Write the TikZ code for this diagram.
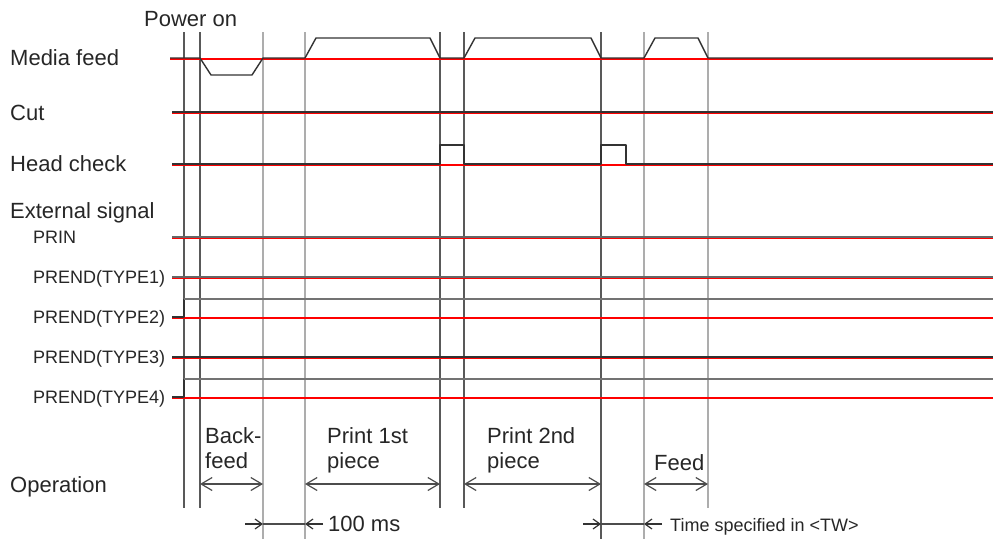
\documentclass[tikz,border=0pt]{standalone}
\usepackage{fontspec}
\setmainfont{Liberation Sans}
\usetikzlibrary{arrows.meta}

\tikzset{
  sig/.style={line width=1.4pt, black!80, line join=round},
  hisig/.style={line width=1.5pt, black!55},
  ref/.style={line width=1.6pt, red},
  edge/.style={line width=1.3pt, black!65},
  faint/.style={line width=2.6pt, black!32},
  lbl/.style={anchor=base west, inner sep=0pt, font=\fontsize{22}{26}\selectfont, text=black!85},
  sublbl/.style={anchor=base west, inner sep=0pt, font=\fontsize{18}{22}\selectfont, text=black!85},
  span/.style={{Straight Barb[length=11pt,width=13pt]}-{Straight Barb[length=11pt,width=13pt]}, line width=1.2pt, black!70},
  pointer/.style={-{Straight Barb[length=7pt,width=10pt]}, line width=1.2pt, black!80},
  gap/.style={line width=1.2pt, black!70}
}

\begin{document}
\begin{tikzpicture}[x=1pt,y=-1pt]
  \useasboundingbox (0,0) rectangle (993,539);
  \foreach \n/\x in {t0/184,t1/200,t2/263,t3/305,t4/440,t5/464,t6/601,t7/644,t8/708}
    \coordinate (\n) at (\x,32);
  \coordinate (low) at (0,508); \coordinate (bottom) at (0,539);
  \coordinate (opy) at (0,484); \coordinate (msy) at (0,524);

  \foreach \n in {t2,t3,t7} \draw[faint] (\n) -- (\n |- bottom);
  \draw[faint] (t8) -- (t8 |- low);
  \foreach \n in {t0,t1,t4,t5} \draw[edge] (\n) -- (\n |- low);
  \draw[edge] (t6) -- (t6 |- bottom);

  \draw[ref] (170,59.2) -- (993,59.2);
  \foreach \y in {112,164,237,277,317,357,397}
    \draw[ref] (172,\y+1.2) -- (993,\y+1.2);

  \draw[sig] (170,58) -- (200,58) -- (211,75) -- (252,75) -- (263,58) -- (305,58)
    -- (316,38) -- (430,38) -- (440,58) -- (464,58) -- (475,38) -- (591,38)
    -- (601,58) -- (644,58) -- (655,38) -- (698,38) -- (708,58) -- (993,58);
  \draw[sig] (172,112) -- (993,112);
  \draw[sig] (172,164) -- (440,164) -- (440,145) -- (464,145) -- (464,164)
    -- (601,164) -- (601,145) -- (626,145) -- (626,164) -- (993,164);
  \draw[sig, black!60] (172,237) -- (993,237);
  \draw[sig, black!60] (172,277) -- (993,277);
  \draw[sig] (172,317) -- (184,317) -- (184,299);
  \draw[hisig] (184,299) -- (993,299);
  \draw[sig] (172,357) -- (993,357);
  \draw[sig] (172,397) -- (184,397) -- (184,379);
  \draw[hisig] (184,379) -- (993,379);

  \node[lbl] (power) at (144,26) {Power on};
  \node[lbl] (media) at (10,65.5) {Media feed};
  \node[lbl] (cut) at (10,120) {Cut};
  \node[lbl] (head) at (10,171) {Head check};
  \node[lbl] (ext) at (10,218) {External signal};
  \node[sublbl] (prin) at (33,243) {PRIN};
  \node[sublbl] (type1) at (33,283) {PREND(TYPE1)};
  \node[sublbl] (type2) at (33,323) {PREND(TYPE2)};
  \node[sublbl] (type3) at (33,363) {PREND(TYPE3)};
  \node[sublbl] (type4) at (33,403) {PREND(TYPE4)};
  \node[lbl] (oper) at (10,492) {Operation};

  \node[lbl] (back1) at (205,443) {Back-};
  \node[lbl] (back2) at (205,468) {feed};
  \node[lbl] (first1) at (327,443) {Print 1st};
  \node[lbl] (first2) at (327,468) {piece};
  \node[lbl] (second1) at (487,443) {Print 2nd};
  \node[lbl] (second2) at (487,468) {piece};
  \node[lbl] (feed) at (654,470) {Feed};

  \draw[span] (t1 |- opy) -- (t2 |- opy);
  \draw[span] (t3 |- opy) -- (t4 |- opy);
  \draw[span] (t5 |- opy) -- (t6 |- opy);
  \draw[span] (t7 |- opy) -- (t8 |- opy);

  \coordinate (a1) at (245,524); \coordinate (a2) at (323,524);
  \coordinate (b1) at (583,524); \coordinate (b2) at (662,524);
  \draw[pointer] (a1) -- (t2 |- msy);
  \draw[gap] (t2 |- msy) -- (t3 |- msy);
  \draw[pointer] (a2) -- (t3 |- msy);
  \draw[pointer] (b1) -- (t6 |- msy);
  \draw[gap] (t6 |- msy) -- (t7 |- msy);
  \draw[pointer] (b2) -- (t7 |- msy);

  \node[lbl] (ms) at (328,531) {100 ms};
  \node[sublbl] (tw) at (670,531) {Time specified in <TW>};
\end{tikzpicture}
\end{document}
